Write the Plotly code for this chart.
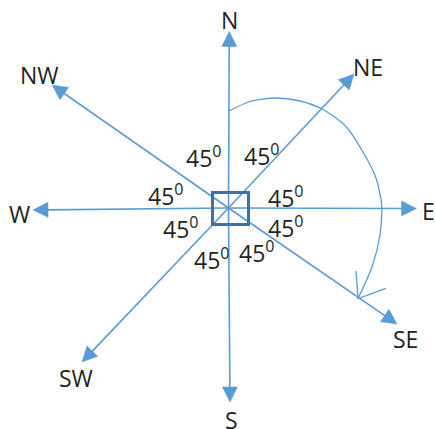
import math
import plotly.graph_objects as go

# ---- data ----
directions = ["N", "NE", "E", "SE", "S", "SW", "W", "NW"]
angle_labels = ["45<sup>0</sup>"] * 8

# ---- geometry (pixel space of the 435x429 canvas) ----
W, H = 435, 429
cx, cy = 228.5, 208.0
tips = {
    "N": (229.3, 31.5), "NE": (354, 74), "E": (416.5, 208.5), "SE": (397, 324),
    "S": (230, 402), "SW": (82, 362), "W": (33, 210), "NW": (52, 85),
}
label_pos = {
    "N": (229, 20), "NE": (368, 67), "E": (428, 211), "SE": (405, 339),
    "S": (231, 420), "SW": (76, 378), "W": (19, 214), "NW": (39, 75),
}
angle_pos = [(204, 157), (262, 155), (166, 195), (286, 197),
             (181, 228), (286, 227), (212, 259), (257, 252)]
arc_x = [229, 250, 275, 300, 322, 345, 363, 376, 381.7, 380, 372, 358]
arc_y = [111, 101.5, 98, 101, 109, 125.5, 152, 178, 205, 235, 267, 298.5]

BLUE = "#5b9bd5"
DARK = "#41719c"
TXT = "#231f20"
FONT = "Open Sans"

fig = go.Figure()

head_len, head_half = 15, 7.5
for d in directions:
    tx, ty = tips[d]
    dx, dy = tx - cx, ty - cy
    L = math.hypot(dx, dy)
    ux, uy = dx / L, dy / L
    bx, by = tx - ux * head_len, ty - uy * head_len
    px, py = -uy, ux
    fig.add_trace(go.Scatter(x=[cx, bx + ux * 1], y=[cy, by + uy * 1], mode="lines",
                             line=dict(color=BLUE, width=1.6), hoverinfo="skip"))
    fig.add_trace(go.Scatter(
        x=[tx, bx + px * head_half, bx - px * head_half, tx],
        y=[ty, by + py * head_half, by - py * head_half, ty],
        mode="lines", fill="toself", fillcolor=BLUE,
        line=dict(color=BLUE, width=0.5), hoverinfo="skip"))

# centre square
fig.add_shape(type="rect", x0=212.5, x1=248.5, y0=192.5, y1=224.5,
              line=dict(color=DARK, width=3), fillcolor="rgba(0,0,0,0)")

# rotation arc
fig.add_trace(go.Scatter(x=arc_x, y=arc_y, mode="lines",
                         line=dict(color=BLUE, width=1.3, shape="spline", smoothing=0.7),
                         hoverinfo="skip"))
# open arrow head at arc end
ex, ey = arc_x[-1], arc_y[-1]
fig.add_trace(go.Scatter(x=[356, ex, 386], y=[271, ey, 288.3], mode="lines",
                         line=dict(color=BLUE, width=1.3), hoverinfo="skip"))

for d in directions:
    x, y = label_pos[d]
    fig.add_annotation(x=x, y=y, text=d, showarrow=False, xanchor="center", yanchor="middle",
                       font=dict(family=FONT, size=23, color=TXT))
for t, (x, y) in zip(angle_labels, angle_pos):
    fig.add_annotation(x=x, y=y, text=t, showarrow=False, xanchor="center", yanchor="middle",
                       font=dict(family=FONT, size=23, color=TXT))

fig.update_layout(
    width=W, height=H, margin=dict(l=0, r=0, t=0, b=0),
    paper_bgcolor="white", plot_bgcolor="white", showlegend=False,
    xaxis=dict(range=[0, W], visible=False, fixedrange=True),
    yaxis=dict(range=[H, 0], visible=False, fixedrange=True),
)
fig.write_html("out.html", config={"displayModeBar": False},
               post_script="document.body.style.margin='0';document.body.style.overflow='hidden';")
